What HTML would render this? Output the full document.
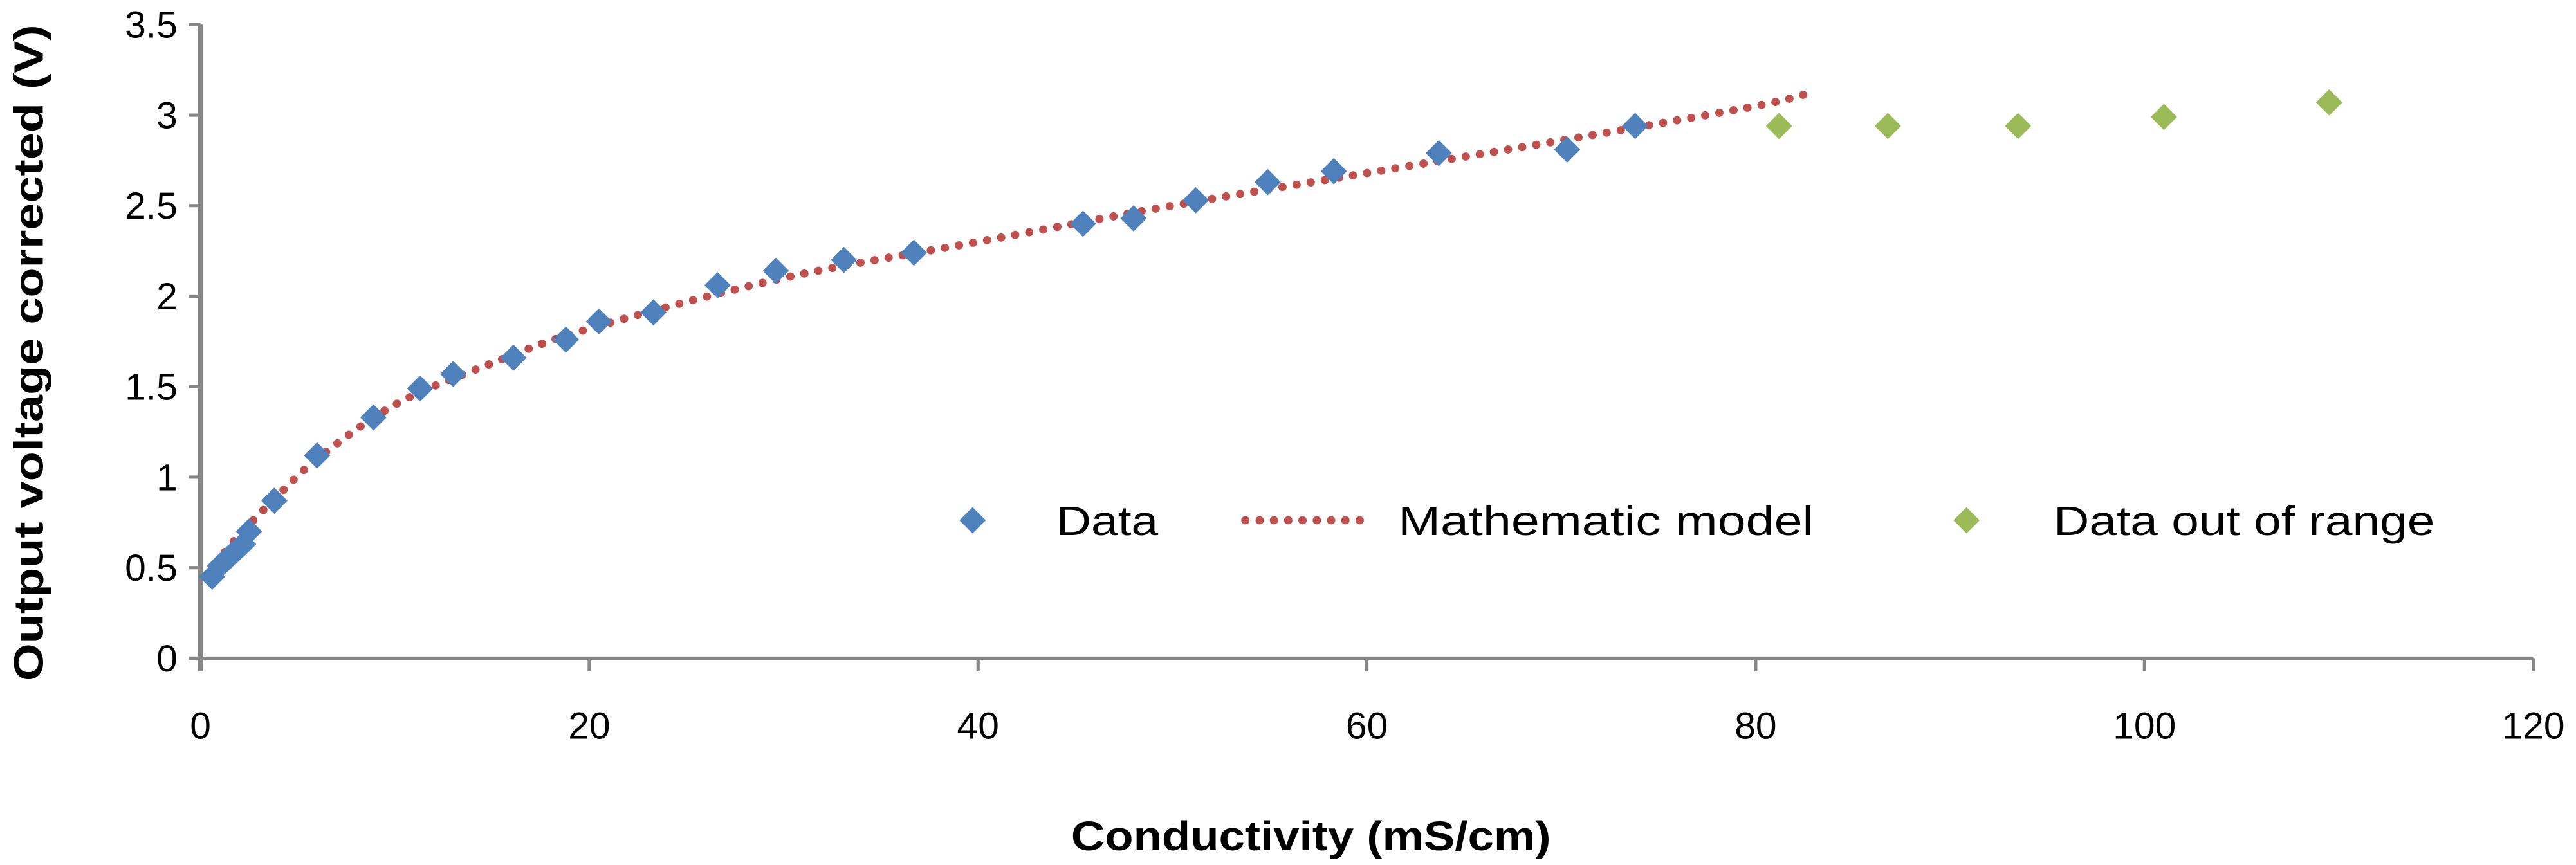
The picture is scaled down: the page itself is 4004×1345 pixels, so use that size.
<!DOCTYPE html>
<html><head><meta charset="utf-8"><style>
html,body{margin:0;padding:0;background:#fff;}
svg{display:block;font-family:"Liberation Sans",sans-serif;}
</style></head><body>
<svg id="chart" width="4004" height="1345" viewBox="0 0 1568 527" preserveAspectRatio="none" xmlns="http://www.w3.org/2000/svg">
<g id="axes"></g>
<g id="marks"></g>
<text transform="translate(26,215) rotate(-90)" text-anchor="middle" font-size="25" font-weight="bold" fill="#000" textLength="400" lengthAdjust="spacingAndGlyphs">Output voltage corrected (V)</text>
<text x="798" y="518" text-anchor="middle" font-size="25" font-weight="bold" fill="#000" textLength="292" lengthAdjust="spacingAndGlyphs">Conductivity (mS/cm)</text>
<g>
  <path d="M592,309 L600,317 L592,325 L584,317Z" fill="#4F81BD"/>
  <text x="643" y="326" font-size="25" fill="#000" textLength="62" lengthAdjust="spacingAndGlyphs">Data</text>
  <line x1="758" y1="317" x2="836" y2="317" stroke="#C0504D" stroke-width="5" stroke-linecap="round" stroke-dasharray="0.1 8.6"/>
  <text x="851" y="326" font-size="25" fill="#000" textLength="253" lengthAdjust="spacingAndGlyphs">Mathematic model</text>
  <path d="M1197,309 L1205,317 L1197,325 L1189,317Z" fill="#9BBB59"/>
  <text x="1250" y="326" font-size="25" fill="#000" textLength="232" lengthAdjust="spacingAndGlyphs">Data out of range</text>
</g>
</svg>
<script>
const xTicks = [0, 20, 40, 60, 80, 100, 120];
const yTicks = [0, 0.5, 1, 1.5, 2, 2.5, 3, 3.5];
const yTickLabels = ["0", "0.5", "1", "1.5", "2", "2.5", "3", "3.5"];
const dataX = [0.6,1.0,1.4,1.8,2.2,2.5,3.8,6.0,8.9,11.3,13.0,16.1,18.8,20.5,23.3,26.6,29.6,33.1,36.7,45.4,48.0,51.2,54.9,58.3,63.7,70.3,73.8];
const dataY = [0.45,0.51,0.55,0.59,0.63,0.70,0.87,1.12,1.33,1.49,1.57,1.66,1.76,1.86,1.91,2.06,2.14,2.20,2.24,2.40,2.43,2.53,2.63,2.69,2.79,2.81,2.94];
const outX = [81.2, 86.8, 93.5, 101.0, 109.5];
const outY = [2.94, 2.94, 2.94, 2.99, 3.07];
const modelX = [0.5,1,2,4,6,10,15,20,30,40,50,60,70,80,83];
const modelY = [0.45,0.55,0.68,0.90,1.10,1.40,1.63,1.82,2.10,2.30,2.50,2.68,2.86,3.05,3.13];

const NS = "http://www.w3.org/2000/svg";
const X0 = 122, X1 = 1542, Y0 = 401, Y1 = 15;
function sx(v){ return X0 + (v - 0) / (120 - 0) * (X1 - X0); }
function sy(v){ return Y0 - (v - 0) / (3.5 - 0) * (Y0 - Y1); }
function mk(tag, attrs, parent){ const e = document.createElementNS(NS, tag); for (const k in attrs) e.setAttribute(k, attrs[k]); parent.appendChild(e); return e; }
const axes = document.getElementById('axes');
const marks = document.getElementById('marks');
const grey = "#868686";

yTicks.forEach((v, i) => {
  const t = mk('line', {x1: X0 - 7, x2: X0, y1: sy(v), y2: sy(v), stroke: grey, 'stroke-width': 2}, axes);
  
  
  const l = mk('text', {x: X0 - 14, y: sy(v) + 8, 'text-anchor': 'end', 'font-size': 23, fill: '#000'}, axes);
  l.textContent = yTickLabels[i];
  
  
});
xTicks.forEach(v => {
  const t = mk('line', {x1: sx(v), x2: sx(v), y1: Y0, y2: Y0 + 8, stroke: grey, 'stroke-width': 2}, axes);
  
  
  const l = mk('text', {x: sx(v), y: 450, 'text-anchor': 'middle', 'font-size': 23, fill: '#000'}, axes);
  l.textContent = String(v);
  
  
});
const ya = mk('line', {x1: X0, x2: X0, y1: Y1, y2: Y0 + 8, stroke: grey, 'stroke-width': 3}, axes);


const xa = mk('line', {x1: X0 - 7, x2: X1, y1: Y0, y2: Y0, stroke: grey, 'stroke-width': 2}, axes);



const pts = modelX.map((x, i) => [sx(x), sy(modelY[i])]);
let d = "M" + pts[0][0] + "," + pts[0][1];
for (let i = 0; i < pts.length - 1; i++) {
  const p0 = pts[Math.max(0, i - 1)], p1 = pts[i], p2 = pts[i + 1], p3 = pts[Math.min(pts.length - 1, i + 2)];
  const c1 = [p1[0] + (p2[0] - p0[0]) / 6, p1[1] + (p2[1] - p0[1]) / 6];
  const c2 = [p2[0] - (p3[0] - p1[0]) / 6, p2[1] - (p3[1] - p1[1]) / 6];
  d += " C" + c1.join(",") + " " + c2.join(",") + " " + p2.join(",");
}
const model = mk('path', {d: d, fill: 'none', stroke: '#C0504D', 'stroke-width': 5, 'stroke-linecap': 'round', 'stroke-dasharray': '0.1 8.6'}, marks);



function diamond(x, y, color){
  const cx = sx(x), cy = sy(y), r = 8;
  return mk('path', {d: `M${cx},${cy - r} L${cx + r},${cy} L${cx},${cy + r} L${cx - r},${cy}Z`, fill: color}, marks);
}
dataX.forEach((x, i) => {
  const p = diamond(x, dataY[i], '#4F81BD');
  
  
});
outX.forEach((x, i) => {
  const p = diamond(x, outY[i], '#9BBB59');
  
  
});
</script>
</body></html>
